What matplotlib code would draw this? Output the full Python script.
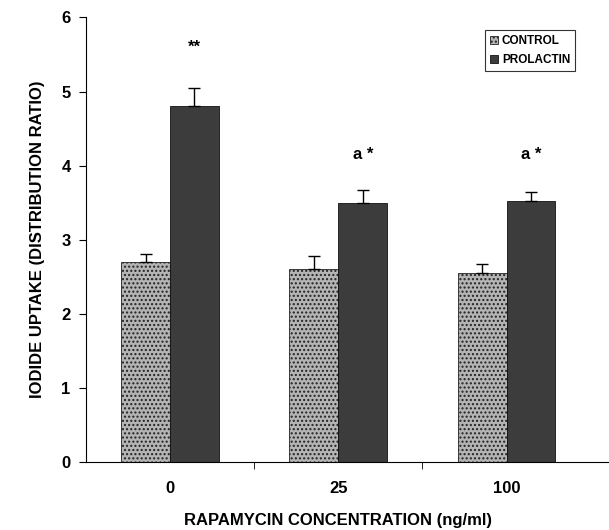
import matplotlib
matplotlib.use("Agg")
import matplotlib.pyplot as plt
import numpy as np

categories = ["0", "25", "100"]
control = [2.70, 2.60, 2.55]
control_err = [0.10, 0.18, 0.12]
prolactin = [4.80, 3.50, 3.52]
prolactin_err = [0.25, 0.17, 0.12]
annotations = ["**", "a *", "a *"]
annot_y = [5.6, 4.15, 4.15]

plt.rcParams['font.family'] = ['Liberation Sans', 'DejaVu Sans']
plt.rcParams['font.weight'] = 'bold'

fig = plt.figure(figsize=(6.09, 5.30), dpi=100)
ax = fig.add_axes([0.141, 0.129, 0.829, 0.838])

x = np.arange(len(categories))
w = 0.29
ax.bar(x - w/2, control, w, color="#b4b4b4", edgecolor="#222222", linewidth=0.6,
       hatch="....", label="CONTROL", zorder=2)
ax.bar(x + w/2, prolactin, w, color="#3c3c3c", edgecolor="#111111", linewidth=0.6,
       label="PROLACTIN", zorder=2)
ax.errorbar(x - w/2, control, yerr=[np.zeros(3), control_err], fmt="none",
            ecolor="black", elinewidth=1.0, capsize=4, capthick=1.0, zorder=3)
ax.errorbar(x + w/2, prolactin, yerr=[np.zeros(3), prolactin_err], fmt="none",
            ecolor="black", elinewidth=1.0, capsize=4, capthick=1.0, zorder=3)
for xi, t, yv in zip(x, annotations, annot_y):
    ax.text(xi + w/2, yv, t, ha="center", va="center", fontsize=12, fontweight="bold")

ax.set_xlim(-0.5, 2.5)
ax.set_ylim(0, 6)
ax.set_yticks(range(0, 7))
ax.set_xticks(x)
ax.set_xticklabels(categories)
ax.set_xticks([0.5, 1.5], minor=True)
ax.tick_params(axis="x", which="major", length=0, pad=14, labelsize=12)
ax.tick_params(axis="x", which="minor", length=5, direction="out")
ax.tick_params(axis="y", length=5, direction="out", labelsize=12, pad=6)
for lab in ax.get_xticklabels() + ax.get_yticklabels():
    lab.set_fontweight("bold")
ax.spines["top"].set_visible(False)
ax.spines["right"].set_visible(False)
ax.spines["bottom"].set_bounds(-0.5, 2.61)
ax.spines["bottom"].set_clip_on(False)

ax.set_ylabel("IODIDE UPTAKE (DISTRIBUTION RATIO)", fontsize=12, fontweight="bold", labelpad=12)
ax.set_xlabel("RAPAMYCIN CONCENTRATION (ng/ml)", fontsize=12, fontweight="bold", labelpad=12)

leg = ax.legend(loc="upper right", bbox_to_anchor=(0.98, 0.985), fontsize=8.5, frameon=True,
                fancybox=False, edgecolor="black", handlelength=0.7, handleheight=0.7,
                handletextpad=0.3, borderpad=0.4, labelspacing=0.6)
leg.get_frame().set_linewidth(0.8)
for t in leg.get_texts():
    t.set_fontweight("bold")

fig.savefig("out.png", dpi=100)
